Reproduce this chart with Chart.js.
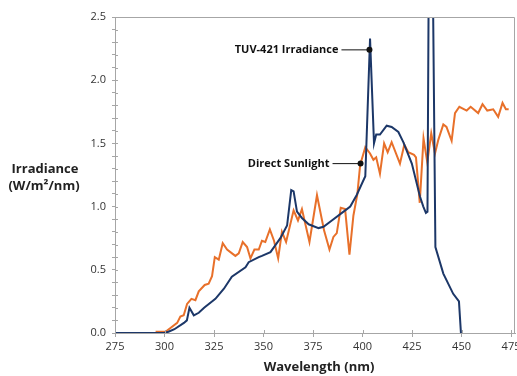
<!DOCTYPE html>
<html>
<head>
<meta charset="utf-8">
<script src="https://cdn.jsdelivr.net/npm/chart.js@4"></script>
<style>
  html, body { margin: 0; padding: 0; background: #ffffff; }
  #wrap { width: 517px; height: 376px; position: relative; }
</style>
</head>
<body>
<div id="wrap"><canvas id="c" width="517" height="376"></canvas></div>
<script>
// ---- Data ----
const tuvWavelengths = [275, 300, 302, 305, 309.8, 311.3, 312.6, 314.8, 317.3, 320, 325.7, 330, 334, 340.9, 342.5, 347.6, 349.2, 353.5, 358.5, 361.9, 364, 365.2, 366.9, 369.4, 372.8, 377.8, 380.3, 384.5, 389.6, 393.8, 397, 401.4, 403.8, 405.8, 406.9, 408.8, 412.2, 414.7, 418.1, 420.6, 424.9, 429, 430.7, 432, 432.8, 433.6, 435.2, 436.8, 440.8, 445.8, 448.7, 449.7];
const tuvIrradiance = [0, 0, 0.01, 0.03, 0.08, 0.10, 0.20, 0.14, 0.16, 0.20, 0.27, 0.35, 0.445, 0.52, 0.56, 0.60, 0.61, 0.64, 0.75, 0.85, 1.13, 1.12, 0.96, 0.91, 0.86, 0.83, 0.84, 0.89, 0.95, 1.00, 1.09, 1.24, 2.33, 1.50, 1.57, 1.57, 1.64, 1.63, 1.59, 1.51, 1.34, 1.08, 1.00, 0.95, 0.96, 3.3, 3.3, 0.68, 0.47, 0.31, 0.25, 0.0];

const sunWavelengths = [295.5, 300.5, 303, 306.4, 308, 309.7, 311.4, 313.6, 315.6, 317.3, 320.3, 322.3, 324, 325.4, 327.4, 329.4, 331.6, 334.1, 335.8, 337.5, 339.5, 341.7, 343.4, 345.4, 347.6, 349.2, 350.9, 353.2, 355.3, 357.4, 359.3, 361.4, 365.2, 367.4, 369.4, 373.2, 377, 380.6, 383.3, 385.3, 387, 389, 391.2, 393.4, 395.4, 397.4, 398.8, 401.4, 403.8, 405.5, 406.9, 408.8, 410.9, 412.7, 414.7, 418.9, 421.1, 423.1, 426, 427, 428.9, 430.8, 432.7, 434.7, 436.6, 438.3, 440.8, 442.4, 445, 446.7, 448.9, 452.6, 454.6, 458.4, 460.6, 463, 466, 468.5, 470.7, 472.4, 473.8];
const sunIrradiance = [0.01, 0.01, 0.04, 0.08, 0.13, 0.14, 0.23, 0.27, 0.26, 0.33, 0.38, 0.39, 0.45, 0.60, 0.58, 0.71, 0.66, 0.63, 0.61, 0.63, 0.72, 0.68, 0.59, 0.66, 0.66, 0.73, 0.72, 0.82, 0.73, 0.59, 0.80, 0.72, 0.97, 0.89, 0.98, 0.72, 1.09, 0.81, 0.66, 0.76, 0.79, 0.99, 0.98, 0.62, 0.93, 1.10, 1.33, 1.47, 1.42, 1.37, 1.39, 1.26, 1.50, 1.43, 1.51, 1.34, 1.49, 1.43, 1.41, 1.39, 1.03, 1.54, 1.35, 1.58, 1.42, 1.53, 1.65, 1.63, 1.52, 1.74, 1.79, 1.76, 1.79, 1.74, 1.81, 1.76, 1.77, 1.71, 1.82, 1.77, 1.77];

const xTickValues = [275, 300, 325, 350, 375, 400, 425, 450, 475];
const yTickValues = [0, 0.1, 0.2, 0.3, 0.4, 0.5, 0.6, 0.7, 0.8, 0.9, 1.0, 1.1, 1.2, 1.3, 1.4, 1.5, 1.6, 1.7, 1.8, 1.9, 2.0, 2.1, 2.2, 2.3, 2.4, 2.5];
const yLabelValues = [0, 0.5, 1.0, 1.5, 2.0, 2.5];

const seriesNames = ['TUV-421 Irradiance', 'Direct Sunlight'];
const callouts = [
  { text: 'TUV-421 Irradiance', x: 403.5, y: 2.24 },
  { text: 'Direct Sunlight', x: 399, y: 1.34 }
];
const xTitle = 'Wavelength (nm)';
const yTitleLines = ['Irradiance', '(W/m²/nm)'];

// ---- Styling ----
const FONT = "'Open Sans', 'Liberation Sans', sans-serif";
const BLUE = '#1c3768';
const ORANGE = '#e8702a';
const AXIS = '#a6a6a6';
const TEXT = '#333333';

const toPoints = (xs, ys) => xs.map((x, i) => ({ x: x, y: ys[i] }));

const extras = {
  id: 'extras',
  afterDraw(chart) {
    const ctx = chart.ctx;
    const a = chart.chartArea;
    const xs = chart.scales.x, ys = chart.scales.y;
    ctx.save();
    // top and right border
    ctx.strokeStyle = AXIS;
    ctx.lineWidth = 1;
    ctx.beginPath();
    ctx.moveTo(a.left, a.top + 0.5);
    ctx.lineTo(a.right - 0.5, a.top + 0.5);
    ctx.lineTo(a.right - 0.5, a.bottom);
    ctx.stroke();
    // inner tick parts
    ctx.beginPath();
    ys.ticks.forEach(t => {
      const py = Math.round(ys.getPixelForValue(t.value)) + 0.5;
      ctx.moveTo(a.left, py); ctx.lineTo(a.left + 3, py);
    });
    xs.ticks.forEach(t => {
      const px = Math.round(xs.getPixelForValue(t.value)) + 0.5;
      ctx.moveTo(px, a.bottom); ctx.lineTo(px, a.bottom - 3);
    });
    ctx.stroke();

    // callouts
    ctx.font = "bold 11px " + FONT;
    ctx.fillStyle = '#111';
    ctx.strokeStyle = '#111';
    ctx.textBaseline = 'middle';
    ctx.textAlign = 'right';
    callouts.forEach(c => {
      const px = xs.getPixelForValue(c.x);
      const py = ys.getPixelForValue(c.y);
      ctx.fillText(c.text, px - 31, py);
      ctx.beginPath();
      ctx.lineWidth = 1;
      ctx.moveTo(px - 28, py);
      ctx.lineTo(px, py);
      ctx.stroke();
      ctx.beginPath();
      ctx.arc(px, py, 3, 0, Math.PI * 2);
      ctx.fill();
    });

    // axis titles
    ctx.fillStyle = '#222';
    ctx.font = "bold 13px " + FONT;
    ctx.textAlign = 'center';
    ctx.fillText(xTitle, (a.left + a.right) / 2 + 4, 367);
    ctx.fillText(yTitleLines[0], 45, 169);
    ctx.fillText(yTitleLines[1], 44, 186);
    ctx.restore();
  }
};

new Chart(document.getElementById('c'), {
  type: 'line',
  data: {
    datasets: [
      {
        label: seriesNames[0],
        data: toPoints(tuvWavelengths, tuvIrradiance),
        borderColor: BLUE,
        borderWidth: 2,
        pointRadius: 0,
        tension: 0,
        fill: false
      },
      {
        label: seriesNames[1],
        data: toPoints(sunWavelengths, sunIrradiance),
        borderColor: ORANGE,
        borderWidth: 2,
        pointRadius: 0,
        tension: 0,
        fill: false
      }
    ]
  },
  options: {
    responsive: false,
    animation: false,
    devicePixelRatio: 1,
    layout: { padding: { left: 0, right: 2, top: 17, bottom: 0 } },
    plugins: { legend: { display: false }, tooltip: { enabled: false } },
    scales: {
      x: {
        type: 'linear',
        min: 275,
        max: 477,
        afterFit(s) { s.height = 43; s.paddingLeft = 0; s.paddingRight = 0; },
        afterBuildTicks(s) { s.ticks = xTickValues.map(v => ({ value: v })); },
        border: { display: true, color: AXIS, width: 1 },
        grid: { drawOnChartArea: false, drawTicks: true, tickLength: 4, color: AXIS },
        ticks: {
          color: TEXT,
          font: { family: FONT, size: 11 },
          padding: 3,
          maxRotation: 0,
          autoSkip: false,
          callback: v => String(v)
        }
      },
      y: {
        type: 'linear',
        min: 0,
        max: 2.5,
        afterFit(s) { s.width = 115; s.paddingTop = 0; s.paddingBottom = 0; },
        afterBuildTicks(s) { s.ticks = yTickValues.map(v => ({ value: v })); },
        border: { display: true, color: AXIS, width: 1 },
        grid: { drawOnChartArea: false, drawTicks: true, tickLength: 3, color: AXIS },
        ticks: {
          color: TEXT,
          font: { family: FONT, size: 11 },
          padding: 6,
          autoSkip: false,
          callback: v => yLabelValues.some(l => Math.abs(l - v) < 1e-6) ? Number(v).toFixed(1) : ''
        }
      }
    }
  },
  plugins: [extras]
});
</script>
</body>
</html>
